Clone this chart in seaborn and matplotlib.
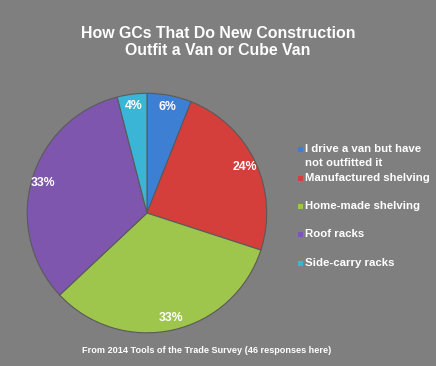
import matplotlib
matplotlib.use("Agg")
import matplotlib.pyplot as plt
from matplotlib.patches import Rectangle
import seaborn as sns

categories = ["I drive a van but have\nnot outfitted it", "Manufactured shelving",
              "Home-made shelving", "Roof racks", "Side-carry racks"]
shares = [6, 24, 33, 33, 4]
colors = ["#3d7fd3", "#d43f3c", "#9ec64c", "#7e56ad", "#3ab5d6"]

title = "How GCs That Do New Construction\nOutfit a Van or Cube Van"
footer = "From 2014 Tools of the Trade Survey (46 responses here)"

sns.set_theme(style="white")
plt.rcParams["font.family"] = ["Liberation Sans", "DejaVu Sans"]
bg = "#7f7f7f"

fig = plt.figure(figsize=(4.36, 3.66), dpi=100, facecolor=bg)
ax = fig.add_axes([0.0596, 0.0874, 0.555, 0.661])
ax.set_facecolor(bg)

wedges, texts, autotexts = ax.pie(
    shares, colors=colors, startangle=90, counterclock=False,
    autopct="%.0f%%", pctdistance=0.9,
    wedgeprops=dict(edgecolor="#5a5a5a", linewidth=0.8),
    textprops=dict(color="white", fontsize=8.8, fontweight="bold"))
ax.set_xlim(-1.01, 1.01)
ax.set_ylim(-1.01, 1.01)
ax.set_aspect("equal")
ax.axis("off")

fig.text(0.5, 0.886, title, ha="center", va="center", color="white",
         fontsize=11.4, fontweight="bold", linespacing=1.2)
fig.text(0.475, 0.043, footer, ha="center", va="center", color="white",
         fontsize=6.6, fontweight="bold")

# legend, placed by hand to mimic the Excel layout
rows_y = [156, 178, 206, 234, 263]
for lab, col, y in zip(categories, colors, rows_y):
    first_y = y - 7 if "\n" in lab else y
    fig.add_artist(Rectangle(((298) / 436, 1 - (first_y + 3) / 366), 5 / 436, 5 / 366,
                             transform=fig.transFigure, facecolor=col,
                             edgecolor="none"))
    fig.text(305 / 436, 1 - first_y / 366, lab.split("\n")[0], ha="left", va="center",
             color="white", fontsize=8.2, fontweight="bold")
    if "\n" in lab:
        fig.text(305 / 436, 1 - (first_y + 14) / 366, lab.split("\n")[1], ha="left",
                 va="center", color="white", fontsize=8.2, fontweight="bold")

fig.savefig("out.png", dpi=100, facecolor=bg)
